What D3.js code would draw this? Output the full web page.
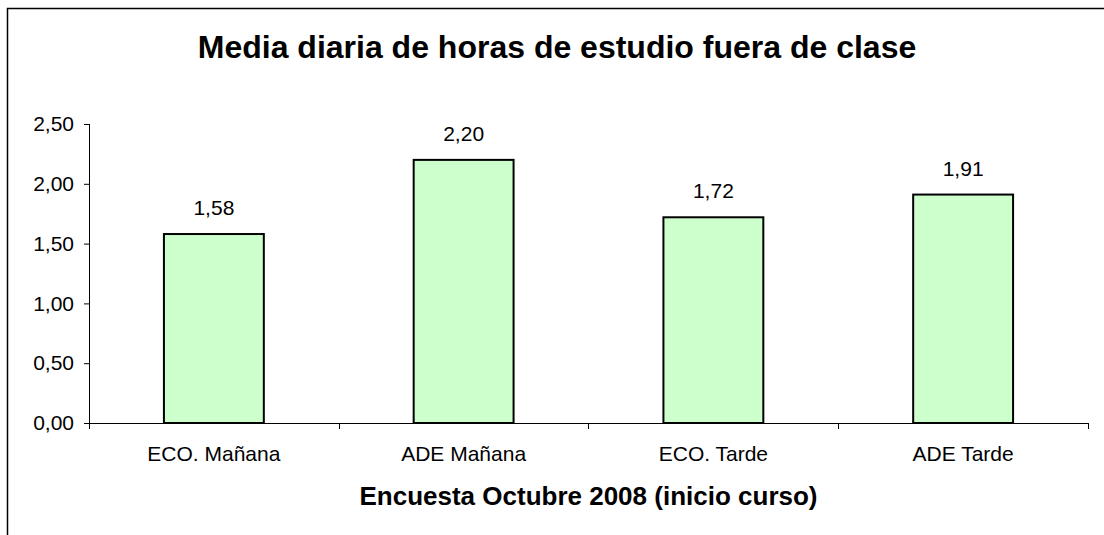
<!DOCTYPE html>
<html>
<head>
<meta charset="utf-8">
<script src="https://cdn.jsdelivr.net/npm/d3@7"></script>
<style>
  body { margin: 0; background: #fff; }
  svg { display: block; font-family: "Liberation Sans", Arial, sans-serif; }
</style>
</head>
<body>
<div id="chart"></div>
<script>
// data
const categories = ["ECO. Mañana", "ADE Mañana", "ECO. Tarde", "ADE Tarde"];
const values = [1.58, 2.20, 1.72, 1.91];
const yTicks = [0, 0.5, 1, 1.5, 2, 2.5];
const chartTitle = "Media diaria de horas de estudio fuera de clase";
const xTitle = "Encuesta Octubre 2008 (inicio curso)";

var svgWidth = 1104;
var svgHeight = 535;

var margin = { top: 124, right: 16, bottom: 112, left: 89 };
var width = svgWidth - margin.left - margin.right;
var height = svgHeight - margin.top - margin.bottom;

var es = d3.formatLocale({ decimal: ",", thousands: ".", grouping: [3], currency: ["", "€"] });
var fmt = es.format(".2f");

var svg = d3.select("#chart")
  .append("svg")
  .attr("width", svgWidth)
  .attr("height", svgHeight);

// outer border (chart area frame)
svg.append("rect")
  .attr("x", 7.5)
  .attr("y", 8.5)
  .attr("width", 1200)
  .attr("height", 1000)
  .attr("fill", "none")
  .attr("stroke", "#000")
  .attr("stroke-width", 1.5);

svg.append("text")
  .attr("x", 557)
  .attr("y", 58)
  .attr("text-anchor", "middle")
  .attr("font-size", "32px")
  .attr("font-weight", "bold")
  .text(chartTitle);

var chartGroup = svg.append("g")
  .attr("transform", `translate(${margin.left}, ${margin.top})`);

// scales
var xScale = d3.scaleBand()
  .domain(categories)
  .range([0, width])
  .paddingInner(0.6)
  .paddingOuter(0.3);

var yScale = d3.scaleLinear()
  .domain([0, 2.5])
  .range([height, 0]);

// y axis
var yAxis = d3.axisLeft(yScale)
  .tickValues(yTicks)
  .tickSize(5)
  .tickPadding(10)
  .tickFormat(fmt);

var gy = chartGroup.append("g").call(yAxis);
gy.select(".domain").attr("d", `M0.5,0V${height}`);
gy.selectAll("text").attr("font-size", "21px").attr("font-family", null).attr("fill", "#000");
gy.selectAll("line").attr("stroke", "#000");

// bars
chartGroup.selectAll("rect.bar")
  .data(values)
  .enter()
  .append("rect")
  .attr("class", "bar")
  .attr("x", (d, i) => xScale(categories[i]))
  .attr("y", d => yScale(d))
  .attr("width", xScale.bandwidth())
  .attr("height", d => height - yScale(d))
  .attr("fill", "#ccffcc")
  .attr("stroke", "#000")
  .attr("stroke-width", 2);

// value labels
chartGroup.selectAll("text.val")
  .data(values)
  .enter()
  .append("text")
  .attr("class", "val")
  .attr("x", (d, i) => xScale(categories[i]) + xScale.bandwidth() / 2)
  .attr("y", d => yScale(d) - 19)
  .attr("text-anchor", "middle")
  .attr("font-size", "21px")
  .text(d => fmt(d));

// x axis
var xAxis = d3.axisBottom(xScale).tickSize(0).tickPadding(23);
var gx = chartGroup.append("g")
  .attr("transform", `translate(0, ${height})`)
  .call(xAxis);
gx.select(".domain").attr("d", `M0,0.5H${width}`).attr("stroke", "#000");
gx.selectAll("text").attr("font-size", "21px").attr("font-family", null).attr("fill", "#000");

// category boundary ticks
var step = xScale.step();
var bounds = categories.map(c => xScale(c) - (step - xScale.bandwidth()) / 2);
bounds.push(width);
gx.selectAll("line.bound")
  .data(bounds)
  .enter()
  .append("line")
  .attr("class", "bound")
  .attr("x1", d => Math.round(d) + 0.5)
  .attr("x2", d => Math.round(d) + 0.5)
  .attr("y1", 0)
  .attr("y2", 6)
  .attr("stroke", "#000");

// x axis title
svg.append("text")
  .attr("x", margin.left + width / 2)
  .attr("y", 505)
  .attr("text-anchor", "middle")
  .attr("font-size", "26px")
  .attr("font-weight", "bold")
  .text(xTitle);
</script>
</body>
</html>
